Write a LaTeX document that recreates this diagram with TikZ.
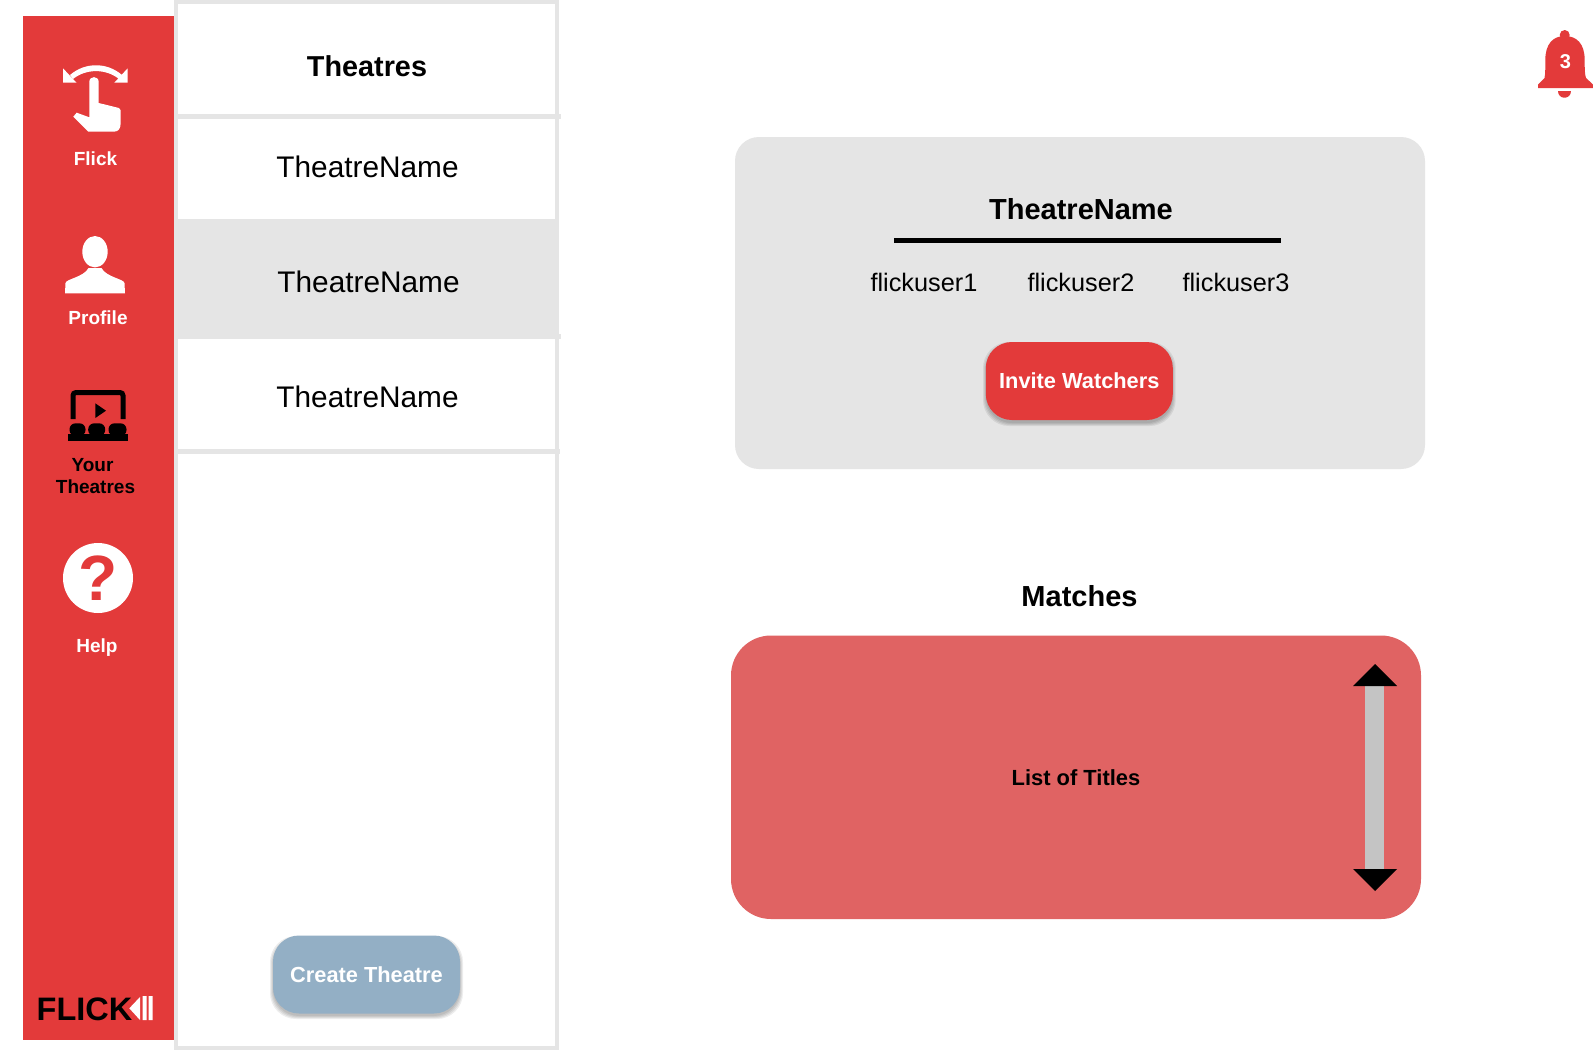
\documentclass[tikz,border=0pt]{standalone}
\usepackage{fontspec}
\setmainfont{Liberation Sans}
\definecolor{flickred}{HTML}{E33A3A}
\definecolor{panelgrey}{HTML}{E5E5E5}
\definecolor{matchred}{HTML}{E06363}
\definecolor{bluebtn}{HTML}{93AFC5}
\definecolor{scrollgrey}{HTML}{C4C4C4}
\tikzset{x=1pt,y=-1pt,
 lbl/.style={inner sep=0pt,align=center,font=\fontsize{#1}{#1}\selectfont},
 lblb/.style={inner sep=0pt,align=center,font=\fontsize{#1}{#1}\selectfont\bfseries},
 btn/.style={rounded corners=26,minimum height=78,minimum width=187,inner sep=0pt,text=white,font=\fontsize{21.8}{22}\selectfont\bfseries},
 softshade/.style={fill=black,fill opacity=.07,rounded corners=26},
 rowline/.style={panelgrey,line width=5},
 edgeline/.style={panelgrey,line width=4}}
\begin{document}
\begin{tikzpicture}
\useasboundingbox (0,0) rectangle (1593,1050);
\fill[white] (0,0) rectangle (1593,1050);
\fill[panelgrey] (174,219) rectangle (559,339);
\draw[edgeline] (175.5,0) -- (175.5,1050) (557,0) -- (557,1050) (174,2) -- (559,2) (174,1048) -- (559,1048);
\draw[rowline] (174,116.5) -- (561,116.5) (174,336.5) -- (561,336.5) (174,451.5) -- (560,451.5);
\fill[flickred] (23,16) rectangle (174,1040);
\node[lblb=28.8] (t0) at (367,66) {Theatres};
\node[lbl=29.8] (t1) at (367.5,167) {TheatreName};
\node[lbl=29.8] (t2) at (368.5,282) {TheatreName};
\node[lbl=29.8] (t3) at (367.5,397) {TheatreName};
\foreach \g in {0,1,2,3}{\fill[softshade] (273-\g,936+3-\g) rectangle (460+\g,1013+3+\g);}
\node[btn,fill=bluebtn] (ct) at (366.5,974.5) {Create Theatre};
% sidebar
\node[lblb=19,text=white] (f) at (95.5,159) {Flick};
\node[lblb=19,text=white] (p) at (98,317.5) {Profile};
\node[lblb=19,text=black] (y) at (95.5,476.5) {\hspace*{-0pt}Your\hspace*{6pt}\\[3pt]Theatres};
\node[lblb=19,text=white] (h) at (97,648) {Help};
% flick icon
\fill[white] (70,75) .. controls (85,62) and (107,62) .. (122,75) -- (119,79) .. controls (106,68.5) and (86,68.5) .. (73,79) -- cycle;
\fill[white] (63,68.3) -- (63,82.7) -- (76.5,82.7) -- cycle (127.7,68.3) -- (127.7,82.7) -- (114.3,82.7) -- cycle;
\fill[white] (89.3,117.3) -- (89.3,82) .. controls (89.3,75.5) and (98.7,75.5) .. (98.7,82) -- (98.7,103) -- (119,108) .. controls (120,108.5) and (120.5,109) .. (120.5,110) -- (120.7,123) .. controls (120.5,128) and (119,131.7) .. (114,131.7) -- (88.3,131.7) -- (73.3,116.7) -- (76.7,112.7) -- cycle;
% profile icon
\fill[white] (95,251.7) ellipse (12.7 and 15.7);
\fill[white] (65,293.3) -- (65.5,283) .. controls (66,279) and (84,277) .. (88.5,268) -- (101.5,268) .. controls (106,277) and (124,279) .. (124.5,283) -- (125,293.3) -- cycle;
% theatre icon
\draw[black,line width=5,rounded corners=3] (73,419) -- (73,392.5) -- (123,392.5) -- (123,419);
\fill[black] (95.3,403.3) -- (106,410.7) -- (95.3,418) -- cycle;
\foreach \a/\w in {77.5/8,96.7/8.5,117.5/9}{\fill[black,rounded corners=6] (\a-\w,436) rectangle (\a+\w,423.3);}
\fill[black] (68,433.5) rectangle (128,441.3);
% help icon
\fill[white] (98,578) circle (35);
\node[inner sep=0pt,text=flickred,font=\fontsize{64}{64}\selectfont\bfseries] (q) at (98,578.5) {?};
% logo
\node[inner sep=0pt,anchor=base west,font=\fontsize{32.5}{33}\selectfont\bfseries] (lg) at (36.5,1020.7) {FLICK};
\fill[white] (129.3,1008.3) -- (140,997) -- (140,1020) -- cycle;
\fill[white] (142.7,996) rectangle (146.7,1020) (148.7,996) rectangle (152.7,1020);
% bell
\fill[flickred] (1564.7,35) circle (5);
\fill[flickred] (1538,84.5) -- (1544.5,78) .. controls (1545.3,74) and (1545.3,70) .. (1545.3,60) .. controls (1545.3,44) and (1553,36) .. (1564.7,36) .. controls (1577,36) and (1584.7,44) .. (1584.7,60) .. controls (1584.7,70) and (1584.7,74) .. (1586,78) -- (1593,84.5) -- (1593,88) -- (1538,88) -- cycle;
\fill[flickred] (1558,90.7) .. controls (1558,100) and (1571.3,100) .. (1571.3,90.7) -- cycle;
\node[lblb=20,text=white] (n3) at (1565.5,62) {3};
% theatre panel
\fill[panelgrey,rounded corners=24] (735,137) rectangle (1425,469);
\node[lblb=29] (tn) at (1081,209) {TheatreName};
\coordinate (ula) at (894,240.5);
\coordinate (ulb) at (1281,240.5);
\draw[black,line width=4.5] (ula) -- (ulb);
\node[lbl=25.3] (u1) at (924,282) {flickuser1};
\node[lbl=25.3] (u2) at (1081,282) {flickuser2};
\node[lbl=25.3] (u3) at (1236,282) {flickuser3};
\foreach \g in {0,1,2,3}{\fill[softshade] (986-\g,342+3-\g) rectangle (1172.7+\g,420+3+\g);}
\node[btn,fill=flickred] (iw) at (1079.3,381) {Invite Watchers};
% matches
\node[lblb=29] (m) at (1079.5,596) {Matches};
\fill[matchred,rounded corners=40] (731,635.5) rectangle (1421,919);
\node[lblb=21.9] (lt) at (1076,778) {List of Titles};
\fill[scrollgrey] (1365,685) rectangle (1384,872);
\fill[black] (1353,686) -- (1375,664) -- (1397,686) -- cycle;
\fill[black] (1353,869) -- (1375,891) -- (1397,869) -- cycle;
\end{tikzpicture}
\end{document}
